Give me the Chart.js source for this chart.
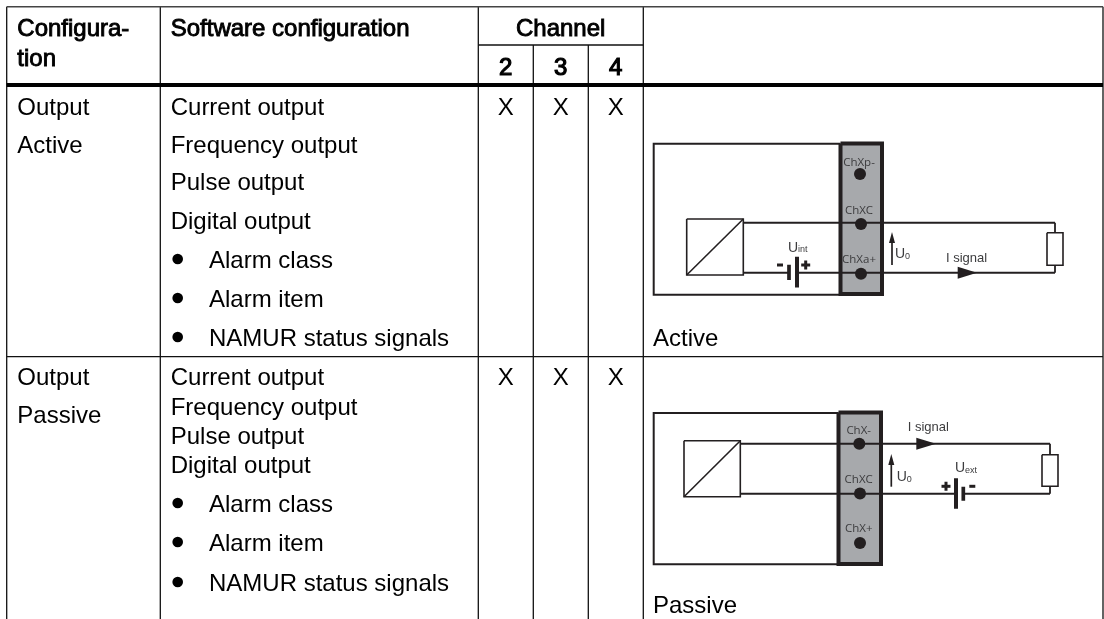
<!DOCTYPE html>
<html>
<head>
<meta charset="utf-8">
<style>
  html, body { margin: 0; padding: 0; background: #fff; overflow: hidden; }
  #wrap { width: 1104px; height: 619px; }
  canvas { display: block; }
</style>
<script src="https://cdn.jsdelivr.net/npm/chart.js@4"></script>
</head>
<body>
<div id="wrap"><canvas id="tableChart"></canvas></div>
<script>
// Table content
const headerConfig = ['Configura-', 'tion'];
const headerSoftware = 'Software configuration';
const headerChannel = 'Channel';
const channels = ['2', '3', '4'];
const channelMarks = [['X', 'X', 'X'], ['X', 'X', 'X']];
const configLabels = [['Output', 'Active'], ['Output', 'Passive']];
const softwareOutputs = ['Current output', 'Frequency output', 'Pulse output', 'Digital output'];
const softwareBullets = ['Alarm class', 'Alarm item', 'NAMUR status signals'];
const diagramCaptions = ['Active', 'Passive'];
const activeTerminals = ['ChXp-', 'ChXC', 'ChXa+'];
const passiveTerminals = ['ChX-', 'ChXC', 'ChX+'];

// Grid of the table, in picture units
const colEdges = [6.7, 160.3, 478.3, 533.3, 588.3, 643.3, 1103];
const rowTop = 6.7, channelRule = 45, headerRule = 85, rowRule = 356.7, tableBottom = 619;
const channelCentres = [505.7, 560.7, 615.7];

const FONT = '"Liberation Sans", Arial, sans-serif';
const SMALL = '"Open Sans", "Noto Sans", sans-serif';
const INK = '#111111';
const WIRE = '#231f20';
const STRIP = '#a7a9ac';
const LABEL = '#3c3c3e';

function seg(x1, y1, x2, y2, width, color) {
  return {
    data: [{x: x1, y: y1}, {x: x2, y: y2}], showLine: true,
    borderColor: color || INK, borderWidth: width, pointRadius: 0, borderCapStyle: 'butt'
  };
}
function poly(points, width) {
  return {
    data: points.map(p => ({x: p[0], y: p[1]})), showLine: true,
    borderColor: WIRE, borderWidth: width, pointRadius: 0, borderJoinStyle: 'miter'
  };
}
function dots(points, radius) {
  return {
    data: points.map(p => ({x: p[0], y: p[1]})), showLine: false,
    pointRadius: radius, pointBackgroundColor: WIRE, pointBorderWidth: 0
  };
}
function rectPts(x1, y1, x2, y2) {
  return [[x1, y1], [x2, y1], [x2, y2], [x1, y2], [x1, y1]];
}

const datasets = [];
const fills = [];

// Table rules
datasets.push(seg(colEdges[0], rowTop, colEdges[6], rowTop, 1.5, '#444444'));
datasets.push(seg(colEdges[2], channelRule, colEdges[5], channelRule, 1.3));
datasets.push(seg(colEdges[0], headerRule, colEdges[6], headerRule, 4, '#000000'));
datasets.push(seg(colEdges[0], rowRule, colEdges[6], rowRule, 1.3));
[0, 1, 2, 5, 6].forEach(i => datasets.push(seg(colEdges[i], rowTop, colEdges[i], tableBottom, 1.3)));
[3, 4].forEach(i => datasets.push(seg(colEdges[i], channelRule, colEdges[i], tableBottom, 1.3)));

function addDiagram(o) {
  fills.push({pts: rectPts(o.stripL, o.stripT, o.stripR, o.stripB), color: STRIP});
  datasets.push(poly(rectPts(o.stripL, o.stripT, o.stripR, o.stripB), 4));
  datasets.push(poly([[o.stripL, o.loopT], [o.loopL, o.loopT], [o.loopL, o.loopB], [o.stripL, o.loopB]], 2));
  datasets.push(poly(rectPts(o.boxL, o.boxT, o.boxR, o.boxB), 1.6));
  datasets.push(seg(o.boxL, o.boxB, o.boxR, o.boxT, 1.6, WIRE));
  // wires: the one with the battery stops at the plates
  datasets.push(seg(o.boxR, o.wireClear, o.wireEnd, o.wireClear, 2, WIRE));
  datasets.push(seg(o.boxR, o.wireBatt, o.plateL, o.wireBatt, 2, WIRE));
  datasets.push(seg(o.plateR, o.wireBatt, o.wireEnd, o.wireBatt, 2, WIRE));
  datasets.push(seg(o.wireEnd, o.wireTop, o.wireEnd, o.loadT, 1.8, WIRE));
  datasets.push(seg(o.wireEnd, o.loadB, o.wireEnd, o.wireBot, 1.8, WIRE));
  datasets.push(poly(rectPts(o.wireEnd - 8, o.loadT, o.wireEnd + 8, o.loadB), 1.6));
  datasets.push(dots(o.holes, 6));
  datasets.push(seg(o.longX, o.longT, o.longX, o.longB, 4, WIRE));
  datasets.push(seg(o.shortX, o.shortT, o.shortX, o.shortB, 3.7, WIRE));
  datasets.push(seg(o.u0X, o.u0B, o.u0X, o.u0T + 8, 1.7, WIRE));
  fills.push({pts: [[o.u0X - 3, o.u0T + 11], [o.u0X, o.u0T], [o.u0X + 3, o.u0T + 11]], color: WIRE});
  fills.push({pts: [[o.arrL, o.arrY - 6], [o.arrR, o.arrY], [o.arrL, o.arrY + 6]], color: WIRE});
  datasets.push(seg(o.plusX - 4.5, o.signY, o.plusX + 4.5, o.signY, 3, WIRE));
  datasets.push(seg(o.plusX, o.signY - 4.5, o.plusX, o.signY + 4.5, 3, WIRE));
  datasets.push(seg(o.minusX - 3, o.signY, o.minusX + 3, o.signY, 3, WIRE));
}

const activeGeom = {
  stripL: 840.5, stripR: 882, stripT: 143.5, stripB: 294, loopL: 653.7, loopT: 143.7, loopB: 294.7,
  boxL: 686.7, boxR: 743.3, boxT: 219, boxB: 275,
  wireClear: 222.7, wireBatt: 272.7, wireTop: 222.7, wireBot: 272.7, wireEnd: 1055,
  plateL: 789, plateR: 797, loadT: 232.7, loadB: 265.3,
  holes: [[860, 174], [861, 224], [861, 273.7]],
  longX: 797, longT: 256.7, longB: 287.5, shortX: 789, shortT: 264.7, shortB: 280,
  u0X: 892, u0T: 232, u0B: 265, arrL: 957.7, arrR: 977, arrY: 272.7,
  plusX: 805.7, minusX: 780, signY: 265
};
const passiveGeom = {
  stripL: 838.5, stripR: 881, stripT: 412.5, stripB: 564, loopL: 653.7, loopT: 413, loopB: 564.3,
  boxL: 684, boxR: 740.3, boxT: 440.7, boxB: 496.7,
  wireClear: 443.7, wireBatt: 493.7, wireTop: 443.7, wireBot: 493.7, wireEnd: 1050,
  plateL: 956, plateR: 963.3, loadT: 454.7, loadB: 486.3,
  holes: [[859.3, 443.7], [860, 493.5], [860, 543]],
  longX: 956, longT: 478.3, longB: 508.7, shortX: 963.3, shortT: 486.7, shortB: 500.7,
  u0X: 891.3, u0T: 454, u0B: 486.7, arrL: 916.3, arrR: 936, arrY: 443.7,
  plusX: 946, minusX: 972.3, signY: 486.3
};
addDiagram(activeGeom);
addDiagram(passiveGeom);

// Solid shapes go under the lines
const fillPlugin = {
  id: 'solidShapes',
  beforeDatasetsDraw(chart) {
    const ctx = chart.ctx, sx = chart.scales.x, sy = chart.scales.y;
    fills.forEach(f => {
      ctx.beginPath();
      f.pts.forEach((p, i) => {
        const px = sx.getPixelForValue(p[0]), py = sy.getPixelForValue(p[1]);
        if (i === 0) ctx.moveTo(px, py); else ctx.lineTo(px, py);
      });
      ctx.closePath();
      ctx.fillStyle = f.color;
      ctx.fill();
    });
  }
};

// Text is placed through the same scales as the marks
const textPlugin = {
  id: 'tableText',
  afterDatasetsDraw(chart) {
    const ctx = chart.ctx, sx = chart.scales.x, sy = chart.scales.y;
    const put = (s, x, y, font, align, color, heavy) => {
      ctx.font = font;
      ctx.textAlign = align || 'left';
      ctx.textBaseline = 'alphabetic';
      ctx.fillStyle = color || '#000000';
      ctx.fillText(s, sx.getPixelForValue(x), sy.getPixelForValue(y));
      if (heavy) {
        // the header is regular type set a little heavier, not a bold cut
        ctx.strokeStyle = color || '#000000';
        ctx.lineWidth = heavy;
        ctx.strokeText(s, sx.getPixelForValue(x), sy.getPixelForValue(y));
      }
    };
    const body = '24px ' + FONT;

    put(headerConfig[0], 17.3, 36, body, 'left', null, 0.9);
    put(headerConfig[1], 17.3, 66, body, 'left', null, 0.9);
    put(headerSoftware, 170.7, 36, body, 'left', null, 0.9);
    put(headerChannel, 560.7, 36, body, 'center', null, 0.9);
    channels.forEach((c, i) => put(c, channelCentres[i], 75, body, 'center', null, 1.2));

    const row1Y = [115, 152.5, 190, 229];
    const row1Bullets = [268, 307, 346];
    const row2Y = [385, 415, 444, 473];
    const row2Bullets = [512, 551, 591];
    configLabels[0].forEach((s, i) => put(s, 17.3, [115, 152.7][i], body));
    configLabels[1].forEach((s, i) => put(s, 17.3, [385, 423][i], body));
    softwareOutputs.forEach((s, i) => put(s, 170.7, row1Y[i], body));
    softwareOutputs.forEach((s, i) => put(s, 170.7, row2Y[i], body));
    softwareBullets.forEach((s, i) => {
      put(s, 209, row1Bullets[i], body);
      put(s, 209, row2Bullets[i], body);
      ctx.fillStyle = '#000000';
      [row1Bullets[i], row2Bullets[i]].forEach(y => {
        ctx.beginPath();
        ctx.arc(sx.getPixelForValue(177.7), sy.getPixelForValue(y - 9), 5.3, 0, Math.PI * 2);
        ctx.fill();
      });
    });
    channelMarks[0].forEach((s, i) => put(s, channelCentres[i], 115, body, 'center'));
    channelMarks[1].forEach((s, i) => put(s, channelCentres[i], 385, body, 'center'));
    put(diagramCaptions[0], 653, 346, body);
    put(diagramCaptions[1], 653, 613, body);

    // diagram labels
    const term = '11.5px ' + SMALL;
    const activeY = [165.7, 214, 263];
    activeTerminals.forEach((s, i) => put(s, 859, activeY[i], term, 'center', LABEL));
    const passiveY = [434.3, 483.3, 532];
    passiveTerminals.forEach((s, i) => put(s, 858.7, passiveY[i], term, 'center', LABEL));
    const sig = '13px ' + FONT;
    const volt = '14px ' + FONT;
    const sub = '9px ' + FONT;
    put('I signal', 946, 262, sig, 'left', LABEL);
    put('I signal', 907.7, 430.7, sig, 'left', LABEL);
    put('U', 895, 257.7, volt, 'left', LABEL);
    put('0', 905, 258.5, sub, 'left', LABEL);
    put('U', 896.7, 480.7, volt, 'left', LABEL);
    put('0', 906.7, 481.5, sub, 'left', LABEL);
    put('U', 788, 251.7, volt, 'left', LABEL);
    put('int', 798, 252.3, sub, 'left', LABEL);
    put('U', 955, 472.3, volt, 'left', LABEL);
    put('ext', 965, 473, sub, 'left', LABEL);
  }
};

new Chart(document.getElementById('tableChart'), {
  type: 'scatter',
  data: { datasets },
  options: {
    animation: false,
    responsive: true,
    maintainAspectRatio: false,
    devicePixelRatio: 1,
    layout: { padding: 0, autoPadding: false },
    plugins: { legend: { display: false }, tooltip: { enabled: false } },
    scales: {
      x: { type: 'linear', display: false, min: 0, max: 1104 },
      y: { type: 'linear', display: false, min: 0, max: 619, reverse: true }
    }
  },
  plugins: [fillPlugin, textPlugin]
});
</script>
</body>
</html>
